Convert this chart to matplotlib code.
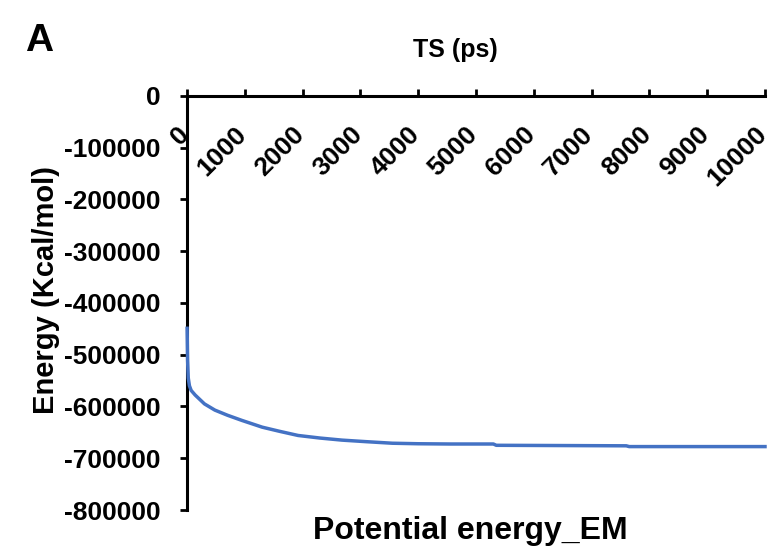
import matplotlib.pyplot as plt
from matplotlib.transforms import ScaledTranslation

plt.rcParams['font.family'] = ['Liberation Sans', 'DejaVu Sans']
plt.rcParams['font.weight'] = 'bold'

# potential energy during minimisation
ts_ps = [0, 8, 20, 40, 70, 140, 300, 480, 700, 950, 1300, 1600, 1920, 2300,
         2680, 3100, 3550, 4000, 4550, 5300, 5350, 6500, 7600, 7650, 9000, 10000]
energy = [-449000, -510000, -545000, -560000, -569000, -578000, -595000, -607000,
          -617000, -627000, -640000, -648000, -656000, -661000, -665000, -668000,
          -671000, -672000, -672500, -672500, -675000, -675500, -676000, -677500,
          -677500, -677500]

x_ticks = list(range(0, 10001, 1000))
y_ticks = list(range(0, -800001, -100000))

fig = plt.figure(figsize=(7.7, 5.51), dpi=100)
ax = fig.add_axes([0.243, 0.0744, 0.7505, 0.7516])

ax.plot(ts_ps, energy, color='#4472C4', linewidth=2.5, zorder=3, clip_on=False)

ax.set_xlim(0, 10000)
ax.set_ylim(-800000, 0)

for side in ['bottom', 'right']:
    ax.spines[side].set_visible(False)
for side in ['top', 'left']:
    ax.spines[side].set_linewidth(2.2)

ax.set_xticks(x_ticks)
ax.set_xticklabels([str(t) for t in x_ticks], rotation=45, ha='right', va='center',
                   rotation_mode='anchor', fontsize=19, fontweight='bold')
ax.tick_params(axis='x', top=True, bottom=False, labeltop=True, labelbottom=False,
               direction='out', length=5, width=2, pad=-27)
# nudge the slanted labels a little down and left, under the axis line
shift = ScaledTranslation(-0.02, -0.04, fig.dpi_scale_trans)
for lbl in ax.get_xticklabels(which='both'):
    lbl.set_transform(lbl.get_transform() + shift)

ax.set_yticks(y_ticks)
ax.set_yticklabels([str(t) for t in y_ticks], fontsize=19, fontweight='bold')
ax.tick_params(axis='y', direction='out', length=5, width=2, pad=14)

ax.set_ylabel('Energy (Kcal/mol)', fontsize=21, fontweight='bold')
ax.yaxis.set_label_coords(-0.220, 0.531)

fig.text(455 / 770, 1 - 50 / 551, 'TS (ps)', ha='center', va='center',
         fontsize=18, fontweight='bold')
fig.text(470 / 770, 1 - 531 / 551, 'Potential energy_EM', ha='center', va='center',
         fontsize=23, fontweight='bold')
fig.text(25 / 770, 1 - 23 / 551, 'A', ha='left', va='top', fontsize=28, fontweight='bold')

fig.savefig('out.png', dpi=100)
